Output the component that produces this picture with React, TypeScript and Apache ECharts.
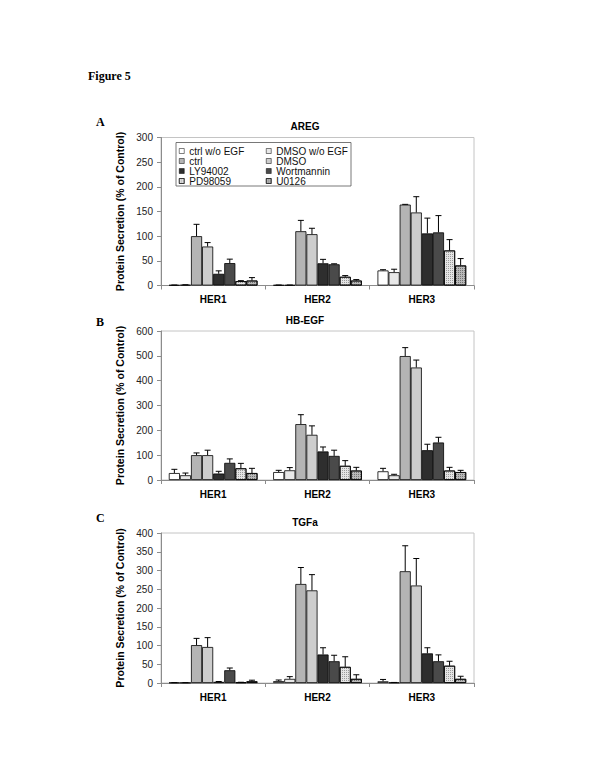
import React, { useEffect, useRef } from "react";
import * as echarts from "echarts";

const categories = ["HER1", "HER2", "HER3"];
const seriesNames = ["ctrl w/o EGF", "DMSO w/o EGF", "ctrl", "DMSO", "LY94002", "Wortmannin", "PD98059", "U0126"];
const panelTitles = ["AREG", "HB-EGF", "TGFa"];
const panelLetters = ["A", "B", "C"];
const yMaxes = [300, 600, 400];
const yIntervals = [50, 100, 50];

// values[series][category]
const aregValues = [
  [1, 1, 30.5], [1.5, 1, 27], [100, 110, 164], [79, 104, 148],
  [23.7, 45, 105.6], [45.4, 43, 107.7], [8.8, 17.6, 71], [10, 10, 40.6],
];
const aregErrors = [
  [0, 0, 1.5], [0, 0, 6], [24, 22, 0.5], [8, 12, 32],
  [6, 8, 31], [8, 1, 34], [1, 2.5, 22], [6, 2, 14],
];
const hbegfValues = [
  [28, 32, 35], [19, 39, 19], [100, 225, 499], [100, 182, 453],
  [26, 115, 120], [69, 97, 151], [47, 57, 38], [28, 38, 32],
];
const hbegfErrors = [
  [15, 7, 12], [9, 11, 4], [9, 38, 34], [20, 36, 30],
  [9, 18, 24], [16, 23, 21], [20, 21, 13], [19, 13, 7],
];
const tgfaValues = [
  [1, 5, 4.5], [1, 11, 1.5], [101, 264, 298], [96, 247, 260],
  [3, 76, 79], [34, 58, 58], [2, 43, 46], [4.5, 11, 11],
];
const tgfaErrors = [
  [0, 3, 5], [0, 6, 0], [18, 44, 68], [25, 42, 72],
  [1, 18, 15], [6, 16, 17], [0, 27, 12], [3, 11, 7],
];

const panelValues = [aregValues, hbegfValues, tgfaValues];
const panelErrors = [aregErrors, hbegfErrors, tgfaErrors];

const FONT = "'Liberation Sans', Arial, sans-serif";
const SERIF = "'Liberation Serif', 'Times New Roman', serif";

const barColors = ["#ffffff", "#e8e8e8", "#b4b4b4", "#cdcdcd", "#2e2e2e", "#4a4a4a", "#e4e4e4", "#b8b8b8"];
const decals: any[] = [
  null, null, null, null, null, null,
  { symbol: "rect", symbolSize: 1, dashArrayX: [1, 1], dashArrayY: [1, 1], color: "rgba(80,80,80,0.5)" },
  { symbol: "rect", symbolSize: 1, dashArrayX: [1, 1], dashArrayY: [1, 1], color: "rgba(60,60,60,0.55)" },
];

const grids = [
  { left: 161, right: 126, top: 137.5, height: 148 },
  { left: 161, right: 126, top: 331, height: 149 },
  { left: 161, right: 126, top: 533, height: 150 },
];
const titleY = [126, 320, 522.5];
const letterY = [122, 322, 518];
const CAT_GAP = 0.15;

export default function App() {
  const ref = useRef<HTMLDivElement>(null);
  useEffect(() => {
    if (!ref.current) return;
    const chart = echarts.init(ref.current, null, { renderer: "svg" });

    const series: any[] = [];
    panelValues.forEach((vals, p) => {
      vals.forEach((row, k) => {
        const itemStyle: any = { color: barColors[k], borderColor: "#000", borderWidth: 0.8 };
        if (decals[k]) itemStyle.decal = decals[k];
        series.push({
          type: "bar",
          name: seriesNames[k],
          xAxisIndex: p,
          yAxisIndex: p,
          data: row,
          barGap: "0%",
          barCategoryGap: CAT_GAP * 100 + "%",
          itemStyle,
          emphasis: { disabled: true },
        });
      });
      const errData: any[] = [];
      panelErrors[p].forEach((row, k) => {
        row.forEach((e, c) => {
          errData.push([c, vals[k][c], e, k]);
        });
      });
      series.push({
        type: "custom",
        xAxisIndex: p,
        yAxisIndex: p,
        z: 5,
        silent: true,
        data: errData,
        renderItem: (params: any, api: any) => {
          const c = api.value(0);
          const v = api.value(1);
          const e = api.value(2);
          const k = api.value(3);
          const base = api.coord([c, v]);
          const top = api.coord([c, v + e]);
          const band = api.size([1, 0])[0];
          const groupW = band * (1 - CAT_GAP);
          const bw = groupW / 8;
          const x = base[0] - groupW / 2 + bw * (k + 0.5);
          const st = { stroke: "#000", lineWidth: 1 };
          return {
            type: "group",
            children: [
              { type: "line", shape: { x1: x, y1: base[1], x2: x, y2: top[1] }, style: st },
              { type: "line", shape: { x1: x - 3, y1: top[1], x2: x + 3, y2: top[1] }, style: st },
            ],
          };
        },
      });
    });

    const legendCommon = {
      orient: "vertical",
      itemWidth: 5,
      itemHeight: 5,
      itemGap: 0,
      icon: "rect",
      selectedMode: false,
      padding: 0,
      itemStyle: { borderWidth: 0.5, borderColor: "#000" },
      textStyle: { fontFamily: FONT, fontSize: 10, color: "#111", lineHeight: 10, padding: [0, 0, 0, 0] },
    };

    const graphics: any[] = [
      {
        type: "text", left: 88, top: 70,
        style: { text: "Figure 5", font: `bold 12px ${SERIF}`, fill: "#000" },
      },
      {
        type: "rect", shape: { x: 176, y: 142.5, width: 175, height: 43.5 },
        style: { fill: "#fff", stroke: "#555", lineWidth: 0.8 }, z: 1,
      },
    ];
    panelTitles.forEach((t, p) => {
      graphics.push({
        type: "text", x: 305, y: titleY[p],
        style: { text: t, font: `bold 10px ${FONT}`, fill: "#000", textAlign: "center", textVerticalAlign: "middle" },
      });
      graphics.push({
        type: "text", x: 96, y: letterY[p],
        style: { text: panelLetters[p], font: `bold 12px ${SERIF}`, fill: "#000", textVerticalAlign: "middle" },
      });
    });

    chart.setOption({
      animation: false,
      backgroundColor: "#fff",
      grid: grids.map((g) => ({ ...g, show: true, borderColor: "#c4c4c4", borderWidth: 1 })),
      xAxis: grids.map((_, p) => ({
        type: "category",
        gridIndex: p,
        data: categories,
        axisLine: { lineStyle: { color: "#8c8c8c", width: 1 } },
        axisTick: { show: true, length: 4, lineStyle: { color: "#8c8c8c" } },
        axisLabel: { fontFamily: FONT, fontSize: 10, fontWeight: "bold", color: "#000", margin: 9 },
        splitLine: { show: false },
      })),
      yAxis: grids.map((_, p) => ({
        type: "value",
        gridIndex: p,
        min: 0,
        max: yMaxes[p],
        interval: yIntervals[p],
        name: "Protein Secretion (% of Control)",
        nameLocation: "middle",
        nameGap: 35,
        nameTextStyle: { fontFamily: FONT, fontSize: 10.5, fontWeight: "bold", color: "#000" },
        axisLine: { show: true, lineStyle: { color: "#8c8c8c", width: 1 } },
        axisTick: { show: true, length: 4, lineStyle: { color: "#8c8c8c" } },
        axisLabel: { fontFamily: FONT, fontSize: 10, color: "#222", margin: 8 },
        splitLine: { show: false },
      })),
      legend: [
        { ...legendCommon, left: 179, top: 146, data: [seriesNames[0], seriesNames[2], seriesNames[4], seriesNames[6]] },
        { ...legendCommon, left: 266, top: 146, data: [seriesNames[1], seriesNames[3], seriesNames[5], seriesNames[7]] },
      ],
      graphic: graphics,
      series,
    });
    return () => chart.dispose();
  }, []);
  return (
    <div
      ref={ref}
      style={{ position: "absolute", left: 0, top: 0, width: 600, height: 776, background: "#fff" }}
    />
  );
}
